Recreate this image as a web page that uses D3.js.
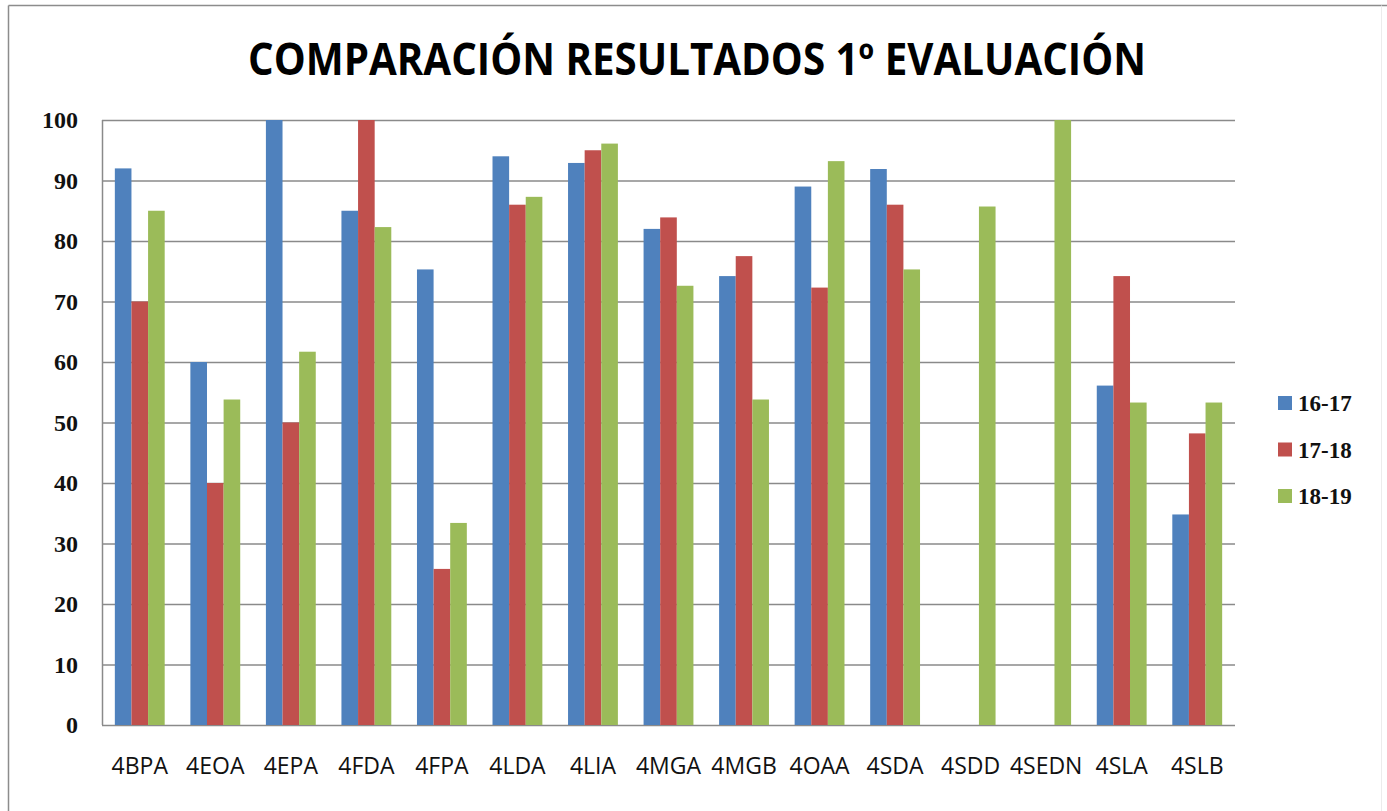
<!DOCTYPE html>
<html><head><meta charset="utf-8">
<script src="https://cdn.jsdelivr.net/npm/d3@7"></script>
<style>body{margin:0;background:#fff}</style>
</head><body>
<svg id="c" width="1387" height="811"></svg>
<script>
const categories = ["4BPA","4EOA","4EPA","4FDA","4FPA","4LDA","4LIA","4MGA","4MGB","4OAA","4SDA","4SDD","4SEDN","4SLA","4SLB"];
const seriesNames = ["16-17","17-18","18-19"];
const s1617 = [92, 60, 100, 85, 75.3, 94, 92.9, 82, 74.2, 89, 91.9, null, null, 56.1, 34.8];
const s1718 = [70, 40, 50, 100, 25.8, 86, 95, 83.9, 77.5, 72.3, 86, null, null, 74.2, 48.2];
const s1819 = [85, 53.8, 61.7, 82.3, 33.4, 87.3, 96.1, 72.6, 53.8, 93.2, 75.3, 85.7, 100, 53.3, 53.3];
const yTicks = [0,10,20,30,40,50,60,70,80,90,100];
const colors = ["#4F81BD","#C0504D","#9BBB59"];
const title = "COMPARACIÓN RESULTADOS 1º EVALUACIÓN";

const svg = d3.select("#c");
const series = [s1617, s1718, s1819];

// chart border (left/top visible, right/bottom faint)
svg.append("line").attr("x1",8.5).attr("x2",8.5).attr("y1",5.5).attr("y2",811).attr("stroke","#8c8c8c").attr("stroke-width",1.5);
svg.append("line").attr("x1",8.5).attr("x2",1387).attr("y1",5.5).attr("y2",5.5).attr("stroke","#8c8c8c").attr("stroke-width",1.5);
svg.append("line").attr("x1",1381.5).attr("x2",1381.5).attr("y1",5.5).attr("y2",811).attr("stroke","#ececec").attr("stroke-width",1);

const m = {l:102, r:1235, t:120, b:725};
const x = d3.scaleBand().domain(categories).range([m.l, m.r]).paddingInner(0.34).paddingOuter(0.17);
const xs = d3.scaleBand().domain(seriesNames).range([0, x.bandwidth()]);
const y = d3.scaleLinear().domain([0,100]).range([m.b, m.t]);

// gridlines
svg.append("g").selectAll("line").data(yTicks).join("line")
  .attr("x1", m.l).attr("x2", m.r)
  .attr("y1", d=>y(d)+0.5).attr("y2", d=>y(d)+0.5)
  .attr("stroke","#8a8a8a").attr("stroke-width",1.5);
// left plot border
svg.append("line").attr("x1",m.l+0.5).attr("x2",m.l+0.5).attr("y1",m.t).attr("y2",m.b)
  .attr("stroke","#8a8a8a").attr("stroke-width",1.5);

// bars
const g = svg.append("g");
categories.forEach((c,i)=>{
  series.forEach((s,j)=>{
    const v = s[i];
    if (v==null) return;
    g.append("rect").attr("x", x(c)+xs(seriesNames[j])).attr("width", xs.bandwidth())
      .attr("y", y(v)).attr("height", y(0)-y(v)).attr("fill", colors[j]);
  });
});

// axes
const yAxis = d3.axisLeft(y).tickValues(yTicks).tickSize(0).tickPadding(0);
const ya = svg.append("g").attr("transform",`translate(78,0)`).call(yAxis);
ya.select(".domain").remove();
ya.selectAll("text").attr("font-family","'Liberation Serif','DejaVu Serif',serif")
  .attr("font-size",24).attr("fill","#111").attr("font-weight","bold").attr("dy","0.33em");

const xAxis = d3.axisBottom(x).tickSize(0).tickPadding(0);
const xa = svg.append("g").attr("transform",`translate(0,${m.b+32})`).call(xAxis);
xa.select(".domain").remove();
xa.selectAll("text").attr("font-family","'Open Sans','Noto Sans',sans-serif")
  .attr("font-size",23).attr("fill","#111").attr("font-weight","normal")
  .attr("transform","scale(1,1.05)");

// title
svg.append("text").attr("x",697).attr("y",75).attr("text-anchor","middle")
  .attr("font-family","'Open Sans','Noto Sans',sans-serif").attr("font-weight","bold")
  .attr("font-size",44).attr("textLength",898).attr("lengthAdjust","spacingAndGlyphs")
  .text(title);

// legend
const lg = svg.append("g");
seriesNames.forEach((n,j)=>{
  const cy = 403 + j*46.5;
  lg.append("rect").attr("x",1278).attr("y",cy-7).attr("width",14).attr("height",14).attr("fill",colors[j]);
  lg.append("text").attr("x",1298).attr("y",cy).attr("dy","0.35em")
    .attr("font-family","'Liberation Serif','DejaVu Serif',serif").attr("font-size",23)
    .attr("font-weight","bold").attr("fill","#111").text(n);
});
</script>
</body></html>
